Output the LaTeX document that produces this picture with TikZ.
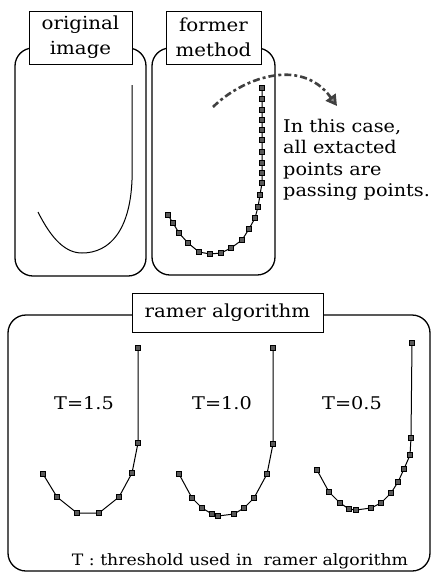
\documentclass[tikz,border=0pt]{standalone}
\usepackage{fontspec}
\setmainfont[FakeStretch=1.1]{DejaVu Serif}
\usetikzlibrary{arrows.meta}
\tikzset{
  panel/.style={draw=black, line width=1.3pt, rounded corners=18pt},
  title/.style={draw=black, fill=white, line width=1pt, inner sep=0pt, align=center, font=\fontsize{18}{25}\selectfont},
  mk/.style={draw=black, fill=black!65, line width=0.4pt, minimum size=5pt, inner sep=0pt, rectangle},
  curve/.style={draw=black, line width=1pt},
  tlabel/.style={font=\fontsize{17.5}{20}\selectfont},
}
\begin{document}
\begin{tikzpicture}[x=1pt,y=-1pt]
\useasboundingbox (0,0) rectangle (433,574);
\fill[white] (0,0) rectangle (433,574);

% panels
\draw[panel] (15,48) rectangle (146,276);
\draw[panel] (152,48) rectangle (275,275);
\draw[panel] (8,315) rectangle (430,571);

\node[title, minimum width=103pt, minimum height=53pt] (orig) at (80.5,37.5) {original\\image};
\node[title, minimum width=95pt, minimum height=53pt] (former) at (213.5,37.5) {former\\method};
\node[title, minimum width=191pt, minimum height=39pt] (ramer) at (227.5,312.5) {ramer algorithm};

% original image curve
\draw[curve] (38,212) .. controls (52,240) and (66,253) .. (82,253)
  .. controls (110,253) and (130,230) .. (132,180) -- (132,85);

% former method points
\foreach \x/\y [count=\i] in {168/215,173/223,179/233,188/243,199/252,210/254,221/253,231/248,242/240,249/229,255/218,258/207,260/195,262/183,262/173,262/163,262/152,262/140,262/130,262/120,262/110,262/99,262/88}
  \coordinate (f\i) at (\x,\y);
\draw[curve] (f1) \foreach \i in {2,...,23} { -- (f\i) };
\foreach \i in {1,...,23} \node[mk] (fm\i) at (f\i) {};

% dashed arrow
\coordinate (as) at (213,107);
\coordinate (ae) at (337,106);
\draw[line width=2.6pt, black!75, dash pattern=on 7pt off 3pt on 3pt off 3pt,
  -{Triangle[length=11pt,width=12pt,fill=black!45]}]
  (as) .. controls (240,80) and (300,55) .. (ae);

\node[anchor=north west, align=left, inner sep=0pt, font=\fontsize{17.5}{21.3}\selectfont] (note) at (283,119)
  {In this case,\\all extacted\\points are\\passing points.};

% ramer curves
\foreach \x/\y [count=\i] in {43/474,57/497,77/513,99/513,119/497,132/473,138/443,138/348}
  \coordinate (a\i) at (\x,\y);
\draw[curve] (a1) \foreach \i in {2,...,8} { -- (a\i) };
\foreach \i in {1,...,8} \node[mk] (am\i) at (a\i) {};

\foreach \x/\y [count=\i] in {179/474,192/498,202/508,212/514,218/516,234/514,244/508,254/498,267/474,273/444,273/348}
  \coordinate (b\i) at (\x,\y);
\draw[curve] (b1) \foreach \i in {2,...,11} { -- (b\i) };
\foreach \i in {1,...,11} \node[mk] (bm\i) at (b\i) {};

\foreach \x/\y [count=\i] in {317/470,329/492,340/503,349/509,356/510,371/508,381/503,391/493,398/482,404/469,410/455,411/438,412/343}
  \coordinate (c\i) at (\x,\y);
\draw[curve] (c1) \foreach \i in {2,...,13} { -- (c\i) };
\foreach \i in {1,...,13} \node[mk] (cm\i) at (c\i) {};

\node[tlabel] (t15) at (84,403) {T=1.5};
\node[tlabel] (t10) at (222,403) {T=1.0};
\node[tlabel] (t05) at (352,403) {T=0.5};

\node[font=\fontsize{15.7}{18}\selectfont] (foot) at (240,561) {T : threshold used in\ \ ramer algorithm};
\end{tikzpicture}
\end{document}
